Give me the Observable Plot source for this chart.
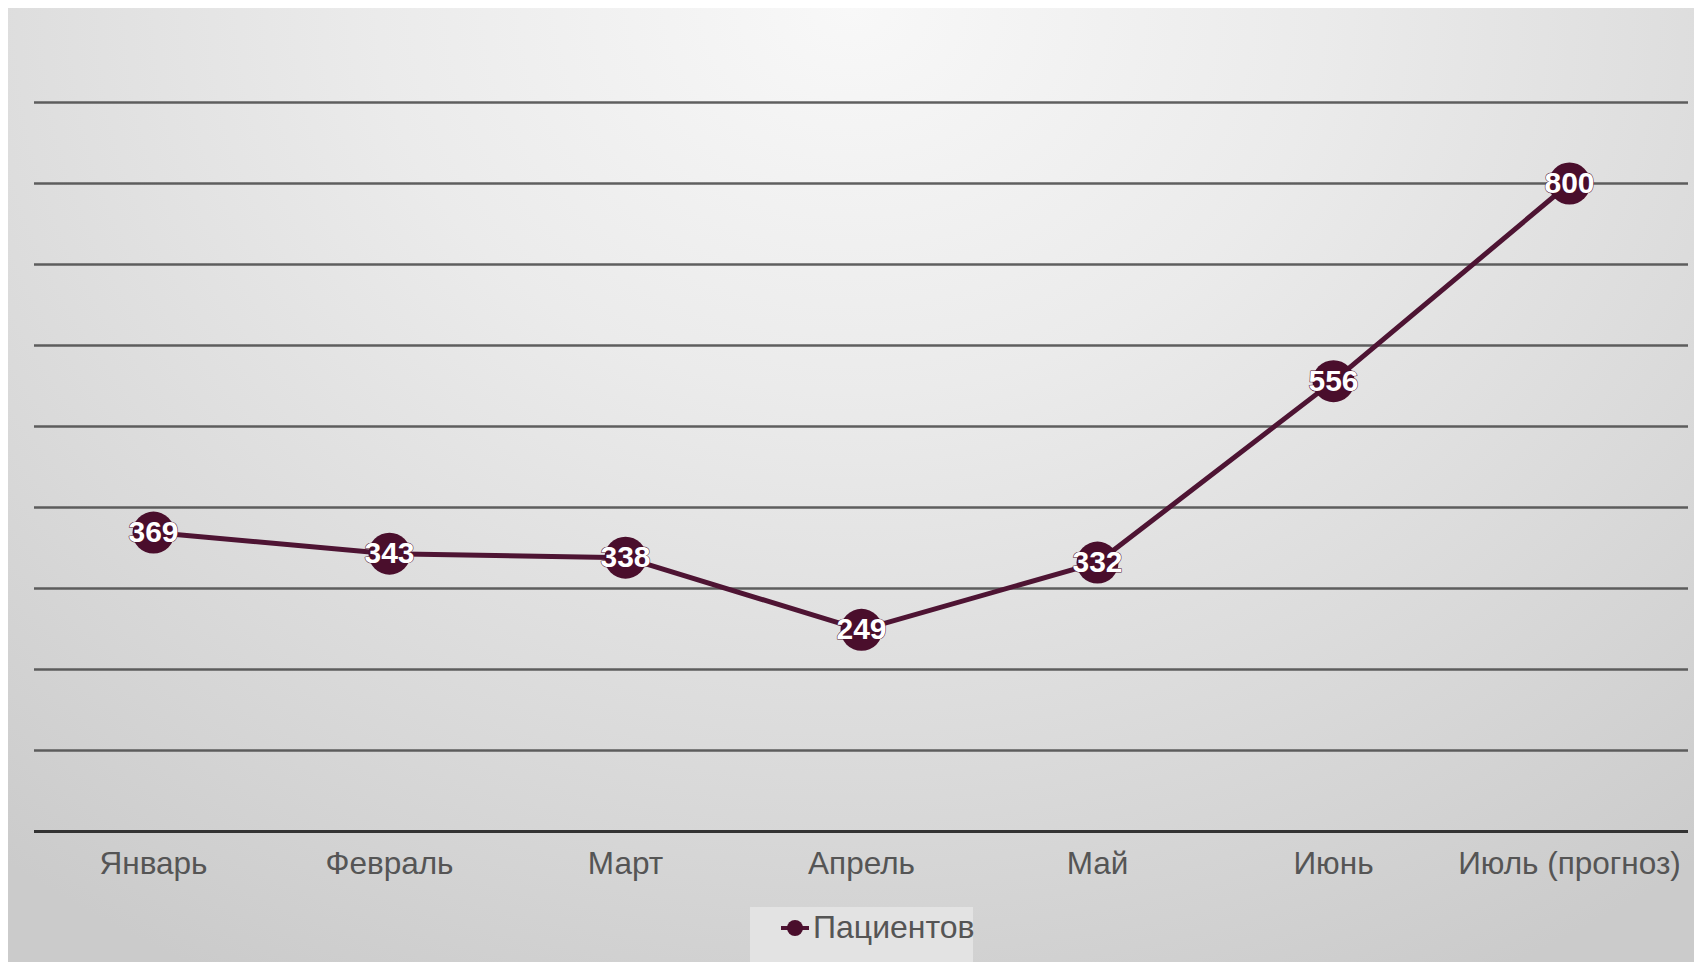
<!DOCTYPE html>
<html>
<head>
<meta charset="utf-8">
<script src="https://cdn.jsdelivr.net/npm/d3@7"></script>
<script src="https://cdn.jsdelivr.net/npm/@observablehq/plot@0.6"></script>
<style>
  html, body { margin: 0; padding: 0; background: #ffffff; }
  body { width: 1694px; height: 962px; overflow: hidden; position: relative; }
  #panel {
    position: absolute; left: 8px; top: 8px; width: 1686px; height: 954px;
    background: radial-gradient(ellipse 80% 115% at 50% 0%, #f8f8f8 0%, #ebebeb 35%, #dadada 70%, #cbcbcb 100%);
    font-family: "Liberation Sans", Arial, sans-serif;
  }
  #chart svg { display: block; background: transparent; }
  #legend {
    position: absolute; left: 742px; top: 899px; width: 223px; height: 55px;
    background: #e3e3e3;
    display: flex; align-items: flex-start; padding-top: 2px; box-sizing: border-box;
  }
  #legend .item { display: flex; align-items: center; margin-left: 30px; color: #555; font-size: 32px; }
  #legend svg { margin-right: 3px; }
</style>
</head>
<body>
<div id="panel">
  <div id="chart"></div>
  <div id="legend"><div class="item">
    <svg width="30" height="20"><line x1="1" y1="10" x2="29" y2="10" stroke="#4e1433" stroke-width="4"/><circle cx="15" cy="10" r="8" fill="#4a0e2c"/></svg>
    <span>Пациентов</span>
  </div></div>
</div>
<script>
// Monthly patient counts, July is a forecast
const months = ["Январь", "Февраль", "Март", "Апрель", "Май", "Июнь", "Июль (прогноз)"];
const patients = [369, 343, 338, 249, 332, 556, 800];
const yTicks = [0, 100, 200, 300, 400, 500, 600, 700, 800, 900];

const data = months.map((m, i) => ({month: m, value: patients[i]}));

const chart = Plot.plot({
  width: 1686,
  height: 890,
  marginLeft: 26,
  marginRight: 6,
  marginTop: 94,
  marginBottom: 67,
  style: {background: "transparent", fontFamily: "'Liberation Sans', Arial, sans-serif"},
  x: {type: "band", domain: months, padding: 0, label: null},
  y: {domain: [0, 900], axis: null},
  marks: [
    Plot.ruleY(yTicks.filter(d => d > 0), {stroke: "#4f4f4f", strokeWidth: 2.5, strokeOpacity: 0.9}),
    Plot.ruleY([0], {stroke: "#333333", strokeWidth: 3}),
    Plot.axisX({tickSize: 0, tickPadding: 20, fontSize: 31.5, color: "#555555", label: null}),
    Plot.line(data, {x: "month", y: "value", stroke: "#4e1433", strokeWidth: 5}),
    Plot.dot(data, {x: "month", y: "value", r: 21, fill: "#4a0e2c"}),
    Plot.text(data, {x: "month", y: "value", text: d => String(d.value), fill: "white",
      fontSize: 30, fontWeight: "bold", stroke: "#4a0e2c", strokeWidth: 1, paintOrder: "stroke"})
  ]
});
document.getElementById("chart").appendChild(chart);
</script>
</body>
</html>
